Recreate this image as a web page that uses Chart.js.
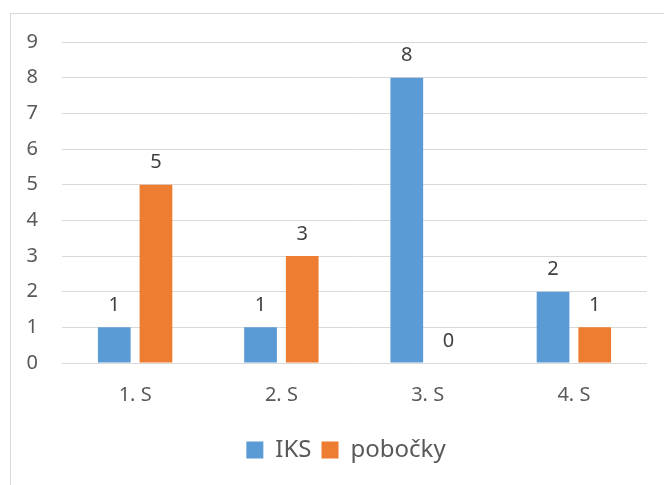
<!DOCTYPE html>
<html>
<head>
<meta charset="utf-8">
<script src="https://cdn.jsdelivr.net/npm/chart.js@4"></script>
<style>
  html, body { margin: 0; padding: 0; background: #fff; overflow: hidden; }
  #frame { position: absolute; left: 10px; top: 13px; width: 700px; height: 520px; border: 1px solid #d9d9d9; }
  #wrap { position: absolute; left: 0; top: 0; width: 664px; height: 485px; }
</style>
</head>
<body>
<div id="frame"></div>
<div id="wrap"><canvas id="chart" width="664" height="485"></canvas></div>
<script>
// categories and series
const categories = ['1. S', '2. S', '3. S', '4. S'];
const iksValues = [1, 1, 8, 2];
const pobockyValues = [5, 3, 0, 1];
const yTicks = [0, 1, 2, 3, 4, 5, 6, 7, 8, 9];

const fontFamily = '"Noto Sans", "Open Sans", sans-serif';

// value labels above each bar
const barLabels = {
    id: 'barLabels',
    afterDatasetsDraw(chart) {
        const ctx = chart.ctx;
        ctx.save();
        ctx.font = '20px ' + fontFamily;
        ctx.fillStyle = '#404040';
        ctx.textAlign = 'center';
        ctx.textBaseline = 'middle';
        chart.data.datasets.forEach((ds, i) => {
            chart.getDatasetMeta(i).data.forEach((bar, j) => {
                ctx.fillText(String(ds.data[j]), bar.x, bar.y - 22);
            });
        });
        ctx.restore();
    }
};

// legend is centred on the whole frame, not on the plot
const legendShift = {
    id: 'legendShift',
    afterLayout(chart) {
        const lg = chart.legend;
        lg.left += 45;
        lg.width = lg.right - lg.left;
    }
};

const ctx = document.getElementById('chart').getContext('2d');
const chart = new Chart(ctx, {
    type: 'bar',
    data: {
        labels: categories,
        datasets: [{
            label: 'IKS',
            data: iksValues,
            backgroundColor: '#5b9bd5',
            borderWidth: 0
        }, {
            label: 'pobočky',
            data: pobockyValues,
            backgroundColor: '#ed7d31',
            borderWidth: 0
        }]
    },
    options: {
        responsive: false,
        animation: false,
        categoryPercentage: 0.57,
        barPercentage: 0.785,
        layout: {
            padding: { top: 42, right: 17, bottom: 13, left: 0 }
        },
        scales: {
            x: {
                grid: { display: false, drawTicks: false },
                border: { display: false },
                ticks: { color: '#595959', font: { family: fontFamily, size: 20 }, padding: 20 },
                afterFit(scale) { scale.height = 65; }
            },
            y: {
                min: 0,
                max: 9,
                afterBuildTicks(scale) { scale.ticks = yTicks.map(v => ({ value: v })); },
                grid: { color: '#d9d9d9', lineWidth: 1, drawTicks: false },
                border: { display: false },
                ticks: { color: '#595959', font: { family: fontFamily, size: 20 }, padding: 24 },
                afterFit(scale) { scale.width = 62; }
            }
        },
        plugins: {
            legend: {
                position: 'bottom',
                labels: {
                    color: '#595959',
                    font: { family: fontFamily, size: 24 },
                    boxWidth: 17,
                    boxHeight: 17,
                    padding: 10
                }
            },
            tooltip: { enabled: false }
        }
    },
    plugins: [barLabels, legendShift]
});
</script>
</body>
</html>
